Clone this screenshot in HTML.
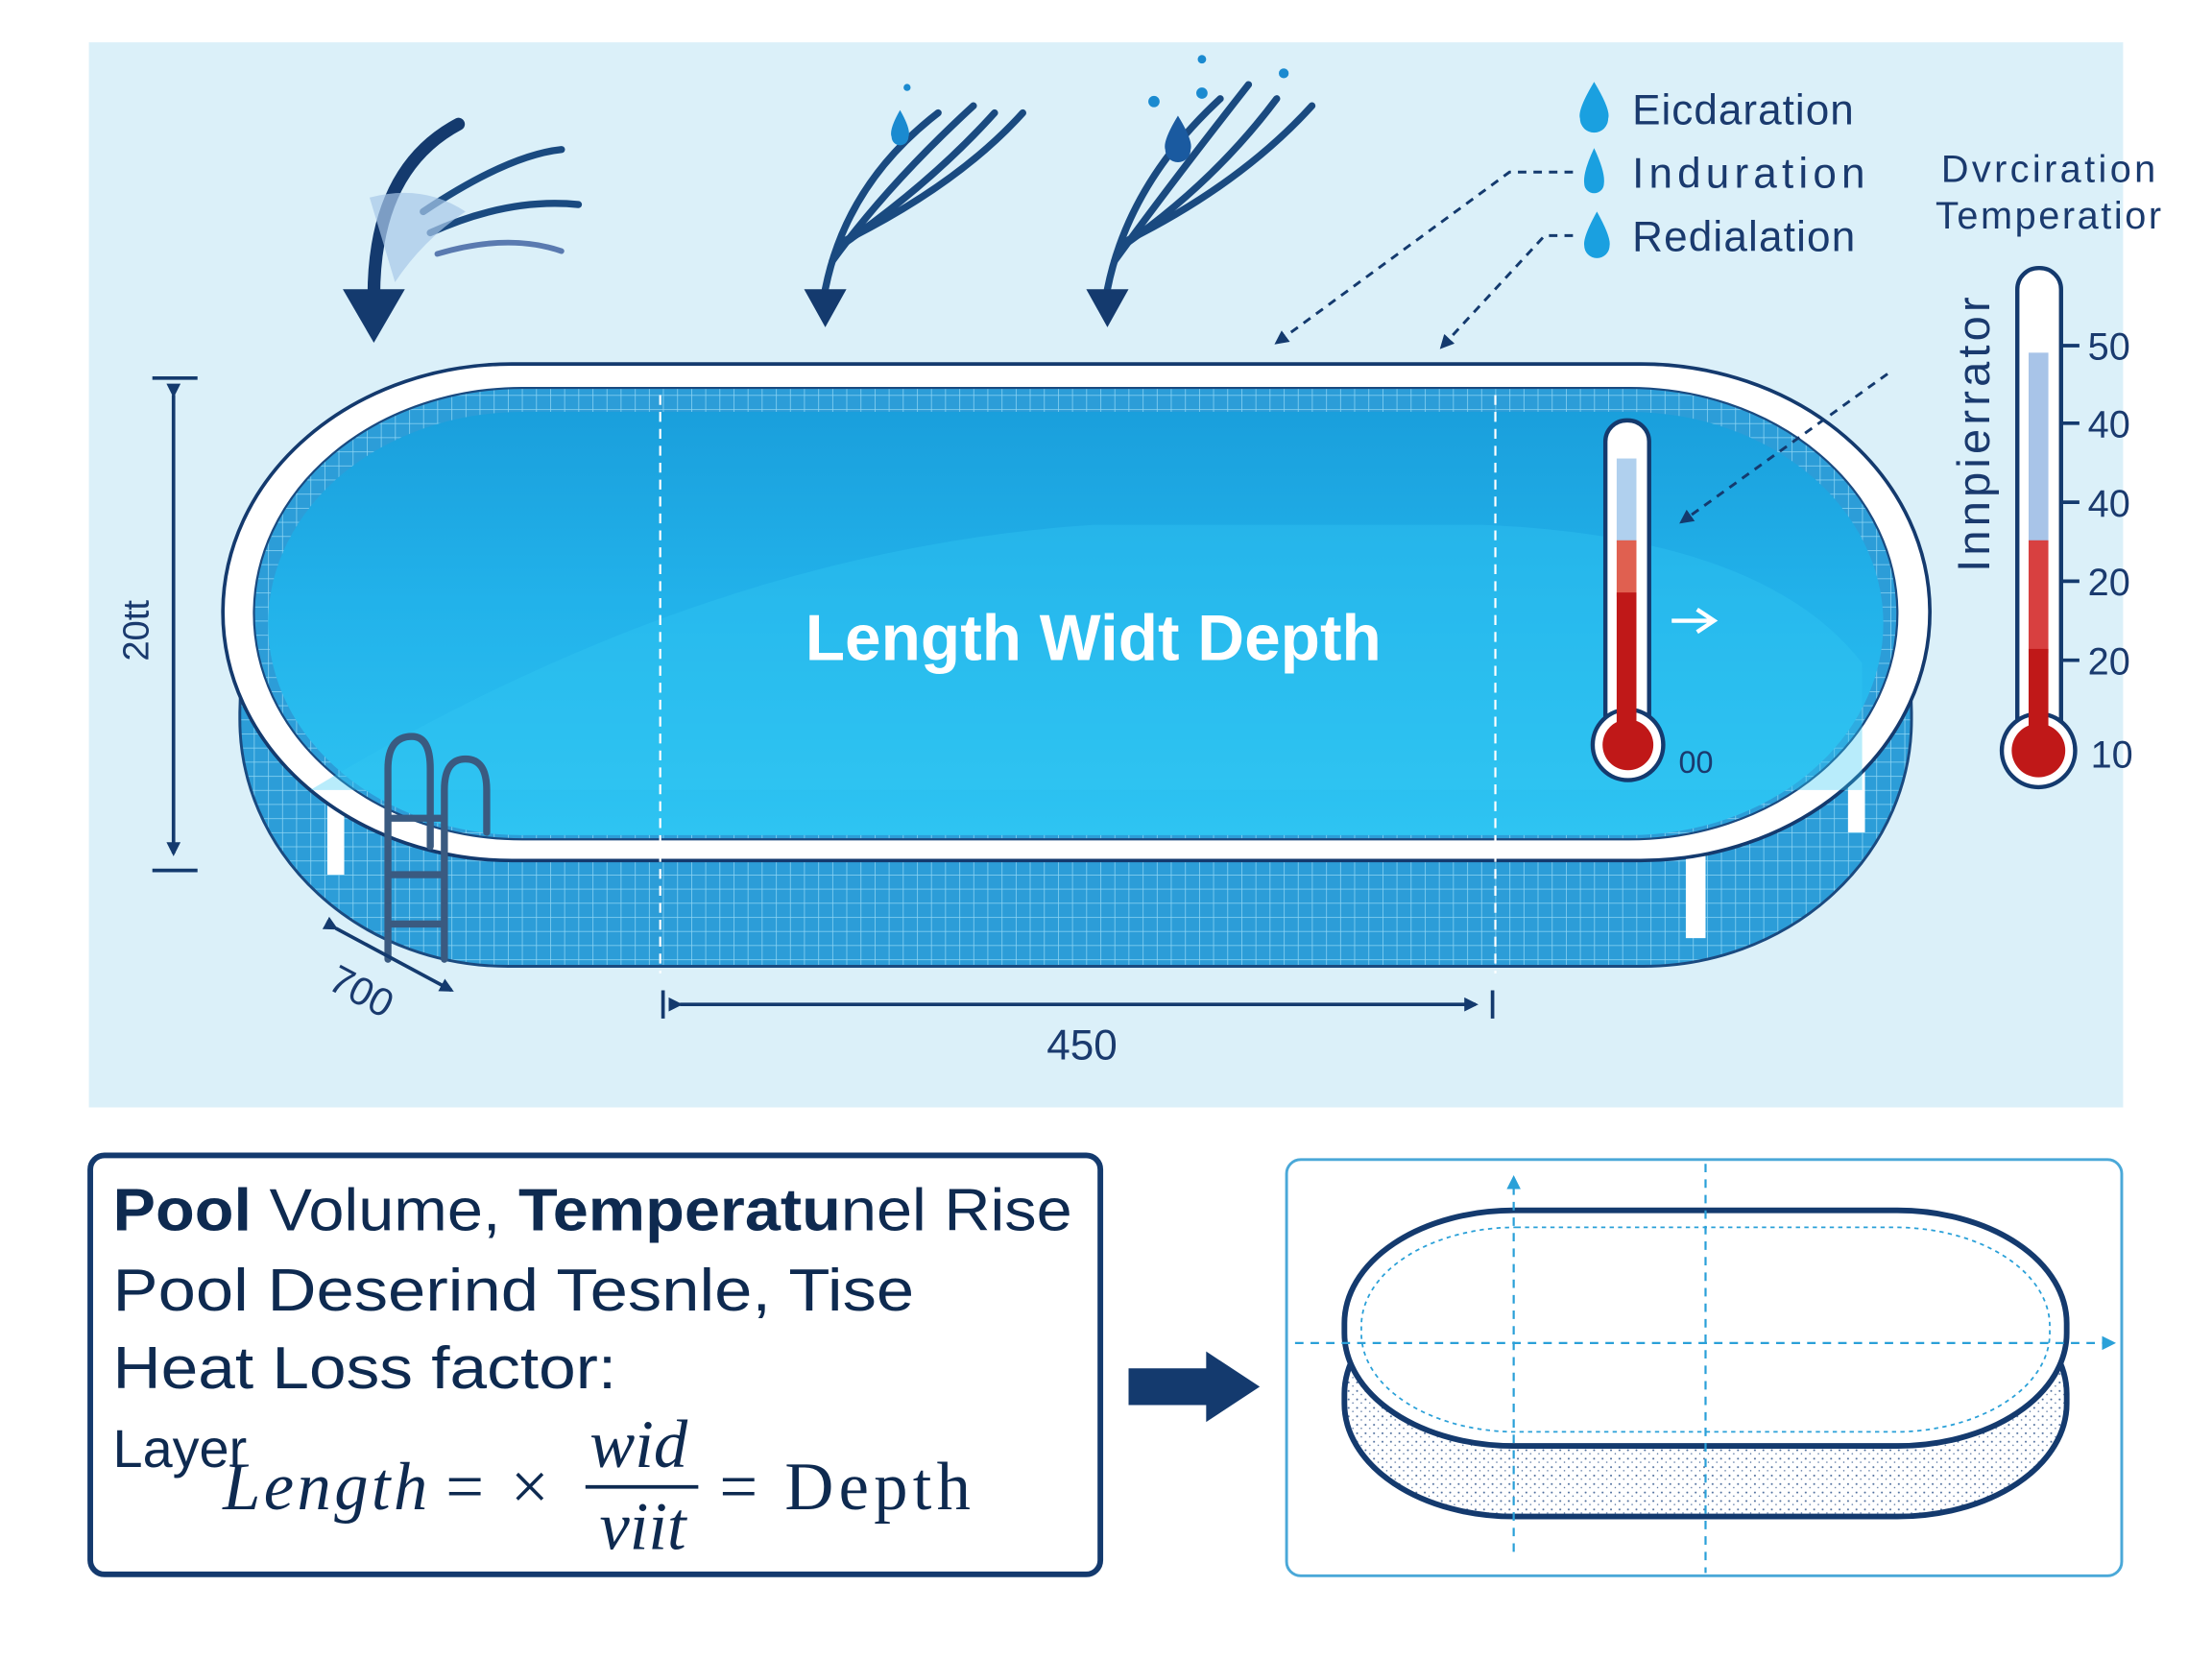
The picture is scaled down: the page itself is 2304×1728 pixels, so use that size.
<!DOCTYPE html>
<html><head><meta charset="utf-8"><style>html,body{margin:0;padding:0;background:#fff}svg{display:block}</style></head>
<body>
<svg width="2304" height="1728" viewBox="0 0 1568 1176" xmlns="http://www.w3.org/2000/svg" font-family="Liberation Sans, sans-serif">
<defs>
<linearGradient id="water" x1="0" y1="0" x2="0" y2="1"><stop offset="0" stop-color="#1a9fdc"/><stop offset="0.45" stop-color="#22b2ea"/><stop offset="1" stop-color="#2ec4f2"/></linearGradient>
<pattern id="tile" width="10" height="10" patternUnits="userSpaceOnUse"><rect width="10" height="10" fill="#2c9dd8"/><path d="M0 0H10M0 0V10" stroke="#8fd6f4" stroke-width="1"/></pattern>
<pattern id="dots" width="6" height="6" patternUnits="userSpaceOnUse"><circle cx="2" cy="2" r="0.7" fill="#4a6a9a"/><circle cx="5" cy="4.5" r="0.5" fill="#4a6a9a"/></pattern>
<marker id="ah" markerWidth="10" markerHeight="10" refX="8" refY="5" orient="auto" markerUnits="userSpaceOnUse"><path d="M0 0L10 5L0 10z" fill="#143a6e"/></marker>
<marker id="ahb" markerWidth="10" markerHeight="10" refX="8" refY="5" orient="auto" markerUnits="userSpaceOnUse"><path d="M0 0L10 5L0 10z" fill="#2aa0d8"/></marker>
</defs>
<rect x="63" y="30" width="1442" height="755" fill="#dbf0f9"/>

<rect x="170" y="330" width="1185" height="355" rx="190" ry="175" fill="url(#tile)" stroke="#1a4a80" stroke-width="2"/>
<rect x="232" y="560" width="12" height="60" fill="#fff"/>
<rect x="1195" y="595" width="14" height="70" fill="#fff"/>
<rect x="1310" y="535" width="12" height="55" fill="#fff"/>
<rect x="158" y="258" width="1210" height="352" rx="205" ry="176" fill="#fff" stroke="#143a6e" stroke-width="2.5"/>
<rect x="180" y="275" width="1165" height="320" rx="190" ry="160" fill="url(#tile)" stroke="#1a4a80" stroke-width="1.5"/>
<rect x="190" y="292" width="1145" height="300" rx="180" ry="150" fill="url(#water)"/>
<path d="M220 560 Q500 390 775 372 L1050 372 Q1250 380 1320 470 L1320 560 Z" fill="#34c8f4" opacity="0.35"/>
<line x1="468" y1="280" x2="468" y2="690" stroke="#fff" stroke-width="1.5" stroke-dasharray="7 5"/>
<line x1="1060" y1="280" x2="1060" y2="690" stroke="#fff" stroke-width="1.5" stroke-dasharray="7 5"/>
<text x="775" y="468" font-size="46" font-weight="bold" fill="#fff" text-anchor="middle">Length Widt Depth</text>

<g fill="none" stroke="#3a5a80" stroke-width="5" stroke-linecap="round">
<path d="M275 680 V545 Q275 522 292 522 Q305 522 305 545 V600"/>
<path d="M315 680 V560 Q315 538 330 538 Q345 538 345 560 V590"/>
<path d="M277 580 H313 M277 620 H313 M277 655 H313"/>
</g>

<g stroke="#143a6e" stroke-width="2.5" fill="none">
<line x1="108" y1="268" x2="140" y2="268"/><line x1="108" y1="617" x2="140" y2="617"/>
<line x1="123" y1="280" x2="123" y2="605" marker-start="url(#ah)" marker-end="url(#ah)"/>
<line x1="470" y1="702" x2="470" y2="722"/><line x1="1058" y1="702" x2="1058" y2="722"/>
<line x1="482" y1="712" x2="1046" y2="712" marker-start="url(#ah)" marker-end="url(#ah)"/>
<line x1="238" y1="658" x2="320" y2="702" marker-start="url(#ah)" marker-end="url(#ah)"/>
</g>
<text x="105" y="447" font-size="26" fill="#1a3a6e" text-anchor="middle" transform="rotate(-90 105 447)">20tt</text>
<text x="255" y="712" font-size="28" fill="#1a3a6e" text-anchor="middle" transform="rotate(28 255 705)">700</text>
<text x="767" y="751" font-size="30" fill="#1a3a6e" text-anchor="middle">450</text>

<g fill="none" stroke="#143a6e" stroke-linecap="round">
<path d="M325 88 Q265 120 265 210" stroke-width="9"/>
<path d="M300 150 Q360 110 398 106" stroke-width="5" stroke="#1a4a80"/>
<path d="M305 165 Q360 140 410 145" stroke-width="5" stroke="#1a4a80"/>
<path d="M310 180 Q360 165 398 178" stroke-width="4" stroke="#5a7ab0"/>
</g>
<path d="M262 140 Q300 130 330 150 Q300 170 280 200 Z" fill="#a8c8e8" opacity="0.7"/>
<path d="M243 205 H287 L265 243 Z" fill="#143a6e"/>
<g fill="none" stroke="#1a4a80" stroke-width="5" stroke-linecap="round">
<path d="M585 205 Q600 130 665 80"/><path d="M590 185 Q630 130 690 75"/><path d="M595 175 Q660 130 705 80"/><path d="M600 170 Q680 130 725 80"/>
<path d="M785 205 Q800 130 865 70"/><path d="M790 185 Q830 130 885 60"/><path d="M795 175 Q860 130 905 70"/><path d="M800 170 Q880 130 930 75"/>
</g>
<path d="M570 205 H600 L585 232 Z M770 205 H800 L785 232 Z" fill="#143a6e"/>
<g fill="#1a8ad0">
<path d="M638 78 Q630 92 632 97 A6 6 0 0 0 644 97 Q646 92 638 78Z"/>
<path d="M835 82 Q824 100 826 106 A9 9 0 0 0 844 106 Q846 100 835 82Z" fill="#1a5aa0"/>
<circle cx="818" cy="72" r="4"/><circle cx="852" cy="66" r="4"/><circle cx="852" cy="42" r="3"/><circle cx="910" cy="52" r="3.5"/><circle cx="643" cy="62" r="2.5"/>
</g>

<g fill="#1aa0e0">
<path d="M1130 58 Q1118 78 1120 84 A10 10 0 0 0 1140 84 Q1142 78 1130 58Z"/>
<path d="M1130 105 Q1122 122 1123 130 A7 7 0 0 0 1137 130 Q1138 122 1130 105Z"/>
<path d="M1132 150 Q1122 168 1123 174 A9 9 0 0 0 1141 174 Q1142 168 1132 150Z"/>
</g>
<g font-size="30" fill="#1a3a6e">
<text x="1157" y="88" textLength="157">Eicdaration</text>
<text x="1157" y="133" textLength="165">Induration</text>
<text x="1157" y="178" textLength="158">Redialation</text>
</g>
<g stroke="#143a6e" stroke-width="2" stroke-dasharray="6 5" fill="none">
<path d="M1115 122 H1070 L905 243" marker-end="url(#ah)"/>
<path d="M1115 167 H1095 L1022 246" marker-end="url(#ah)"/>
<path d="M1338 265 L1192 370" marker-end="url(#ah)"/>
</g>
<text x="1452" y="129" font-size="27" fill="#1a3a6e" text-anchor="middle" textLength="152">Dvrciration</text>
<text x="1452" y="162" font-size="27" fill="#1a3a6e" text-anchor="middle" textLength="160">Temperatior</text>
<text x="1410" y="308" font-size="32" fill="#1a3a6e" text-anchor="middle" transform="rotate(-90 1410 308)" textLength="195">Innpierrator</text>

<rect x="1430" y="190" width="31" height="345" rx="15" fill="#fff" stroke="#143a6e" stroke-width="3"/>
<circle cx="1445" cy="532" r="26" fill="#fff" stroke="#143a6e" stroke-width="3"/>
<rect x="1438" y="250" width="14" height="135" fill="#a8c4e8"/>
<rect x="1438" y="383" width="14" height="80" fill="#d84040"/>
<rect x="1438" y="460" width="14" height="70" fill="#c01818"/>
<circle cx="1445" cy="532" r="19" fill="#c01818"/>
<g stroke="#143a6e" stroke-width="2.5"><line x1="1462" y1="245" x2="1474" y2="245"/><line x1="1462" y1="300" x2="1474" y2="300"/><line x1="1462" y1="356" x2="1474" y2="356"/><line x1="1462" y1="412" x2="1474" y2="412"/><line x1="1462" y1="468" x2="1474" y2="468"/></g>
<g font-size="27" fill="#1a3a6e"><text x="1480" y="255">50</text><text x="1480" y="310">40</text><text x="1480" y="366">40</text><text x="1480" y="422">20</text><text x="1480" y="478">20</text><text x="1482" y="544">10</text></g>

<rect x="1138" y="298" width="31" height="225" rx="15" fill="#fff" stroke="#143a6e" stroke-width="3"/>
<circle cx="1154" cy="528" r="25" fill="#fff" stroke="#143a6e" stroke-width="3"/>
<rect x="1146" y="325" width="14" height="60" fill="#b0d0ee"/>
<rect x="1146" y="383" width="14" height="40" fill="#e06050"/>
<rect x="1146" y="420" width="14" height="100" fill="#c01818"/>
<circle cx="1154" cy="528" r="18" fill="#c01818"/>
<path d="M1185 440 H1215 M1203 432 L1215 440 L1203 448" stroke="#fff" stroke-width="3" fill="none"/>
<text x="1190" y="548" font-size="22" fill="#1a3a6e">00</text>

<rect x="64" y="819" width="716" height="297" rx="10" fill="#fff" stroke="#143a6e" stroke-width="4"/>
<g font-size="42" fill="#0e2a50">
<text x="80" y="872" textLength="680" lengthAdjust="spacingAndGlyphs"><tspan font-weight="bold">Pool</tspan> Volume, <tspan font-weight="bold">Temperatu</tspan>nel Rise</text>
<text x="80" y="929" textLength="568" lengthAdjust="spacingAndGlyphs">Pool Deserind Tesnle, Tise</text>
<text x="80" y="984" textLength="357" lengthAdjust="spacingAndGlyphs">Heat Loss factor:</text>
<text x="80" y="1040" font-size="38">Layer</text>
</g>
<g font-family="Liberation Serif, serif" fill="#0e2a50" font-size="48">
<text x="158" y="1070" font-style="italic" textLength="145">Length</text>
<text x="316" y="1070">=</text>
<text x="362" y="1070">×</text>
<text x="418" y="1040" font-style="italic">wid</text>
<line x1="415" y1="1054" x2="495" y2="1054" stroke="#0e2a50" stroke-width="2.5"/>
<text x="425" y="1098" font-style="italic">viit</text>
<text x="510" y="1070" textLength="178">= Depth</text>
</g>

<path d="M800 970 H855 V958 L893 983 L855 1008 V996 H800 Z" fill="#143a6e"/>

<rect x="912" y="822" width="592" height="295" rx="10" fill="#fff" stroke="#4aa8d8" stroke-width="2"/>
<rect x="953" y="908" width="512" height="167" rx="120" ry="80" fill="url(#dots)" stroke="#143a6e" stroke-width="4"/>
<rect x="953" y="858" width="512" height="167" rx="120" ry="80" fill="#fff" stroke="#143a6e" stroke-width="4"/>
<rect x="965" y="870" width="488" height="145" rx="110" ry="70" fill="none" stroke="#2aa0d8" stroke-width="1.2" stroke-dasharray="3 3"/>
<g stroke="#2aa0d8" stroke-width="1.5" stroke-dasharray="6 5" fill="none">
<line x1="1073" y1="1100" x2="1073" y2="835" marker-end="url(#ahb)"/>
<line x1="1209" y1="825" x2="1209" y2="1115"/>
<line x1="918" y1="952" x2="1498" y2="952" marker-end="url(#ahb)"/>
</g>
</svg>
</body></html>
